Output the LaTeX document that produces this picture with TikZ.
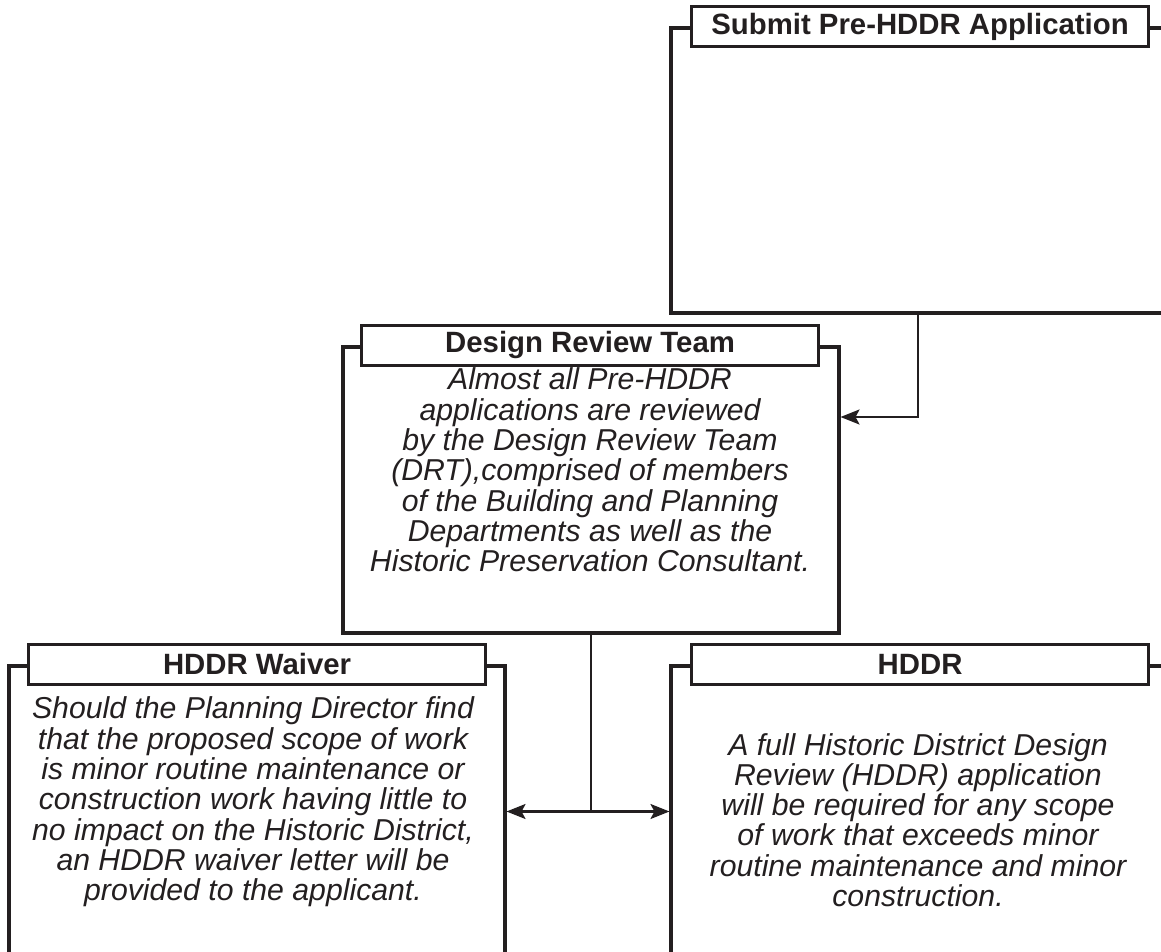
\documentclass[tikz,border=0pt]{standalone}
\usepackage{fontspec}
\setmainfont{Liberation Sans}
\usetikzlibrary{arrows.meta}
\definecolor{ink}{HTML}{231F20}
\begin{document}
\begin{tikzpicture}[x=0.02cm,y=-0.02cm,
 outer/.style={draw=ink, line width=1.8pt, rectangle, inner sep=0pt},
 title/.style={draw=ink, fill=white, line width=1.6pt, minimum width=9.13cm, minimum height=0.8cm, inner sep=0pt, font=\fontsize{16.7}{18}\selectfont\bfseries, text=ink, anchor=west},
 body/.style={align=center, font=\fontsize{17.2}{17.25}\selectfont\itshape, text=ink, inner sep=0pt},
 conn/.style={draw=ink, line width=1.3pt},
 arr/.style={conn, -{Stealth[length=0.38cm,width=0.3cm,inset=0.08cm]}}]
\useasboundingbox (0,0) rectangle (1161,952);
\clip (0,0) rectangle (1161,952);
% outer boxes
\node[outer, minimum width=10.58cm, minimum height=5.7cm] (sub) at (935.5,170.5) {};
\node[outer, minimum width=9.92cm, minimum height=5.72cm] (drt) at (591,490) {};
\node[outer, minimum width=9.92cm, minimum height=6.68cm] (wav) at (257,833) {};
\node[outer, minimum width=10.58cm, minimum height=6.68cm] (hddr) at (935.5,833) {};
% titles
\node[title] (subt) at ([xshift=0.42cm]sub.north west) {Submit Pre-HDDR Application};
\node[title] (drtt) at ([xshift=0.38cm]drt.north west) {Design Review Team};
\node[title] (wavt) at ([xshift=0.4cm]wav.north west) {HDDR Waiver};
\node[title] (hddrt) at ([xshift=0.42cm]hddr.north west) {HDDR};
% bodies
\node[body] (drtb) at (590,470) {Almost all Pre-HDDR\\applications are reviewed\\by the Design Review Team\\(DRT),comprised of members\\of the Building and Planning\\Departments as well as the\\Historic Preservation Consultant.};
\node[body] (wavb) at (253,802) {Should the Planning Director find\\that the proposed scope of work\\is minor routine maintenance or\\construction work having little to\\no impact on the Historic District,\\an HDDR waiver letter will be\\provided to the applicant.};
\node[body] (hddrb) at (918,820) {A full Historic District Design\\Review (HDDR) application\\will be required for any scope\\of work that exceeds minor\\routine maintenance and minor\\construction.};
% connectors
\draw[arr] ([xshift=-0.35cm]sub.south) |- ([yshift=1.46cm]drt.east);
\coordinate (junc) at ([yshift=-3.54cm]drt.south);
\draw[conn] (drt.south) -- (junc);
\draw[arr] (junc) -- (junc -| wav.east);
\draw[arr] (junc) -- (junc -| hddr.west);
\end{tikzpicture}
\end{document}
